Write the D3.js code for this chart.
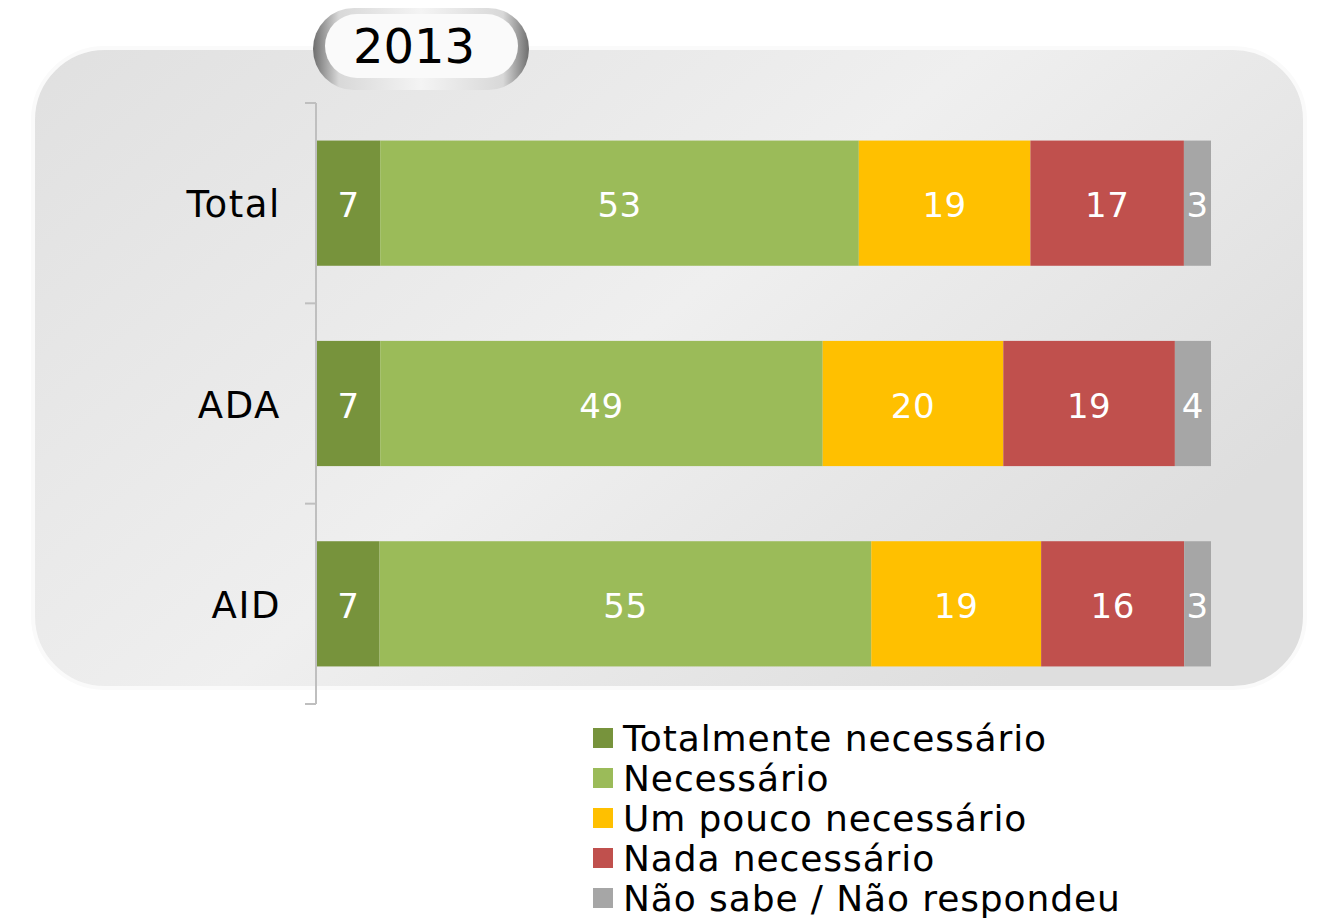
<!DOCTYPE html>
<html>
  <head>
    <meta charset="utf-8" />
    <title>2013</title>
    <script src="https://d3js.org/d3.v7.min.js"></script>
    <style>
      body { margin: 0; background: #fff; }
      text { font-family: "DejaVu Sans", Verdana, sans-serif; }
    </style>
  </head>
  <body>
    <svg width="1319" height="921" id="chart"></svg>

    <script>
        // data
        var categories = ["Total", "ADA", "AID"];
        var seriesNames = ["Totalmente necessário", "Necessário", "Um pouco necessário", "Nada necessário", "Não sabe / Não respondeu"];
        var totalmente = [7, 7, 7];
        var necessario = [53, 49, 55];
        var umPouco = [19, 20, 19];
        var nada = [17, 19, 16];
        var naoSabe = [3, 4, 3];
        var yearLabel = "2013";

        var colors = ["#77933c", "#9bbb59", "#ffc000", "#c0504d", "#a6a6a6"];

        // build rows for d3.stack
        var seriesValues = [totalmente, necessario, umPouco, nada, naoSabe];
        var rows = categories.map(function(c, i) {
            var r = { cat: c };
            seriesNames.forEach(function(s, j) { r[s] = seriesValues[j][i]; });
            return r;
        });

        var svg = d3.select("#chart");
        var defs = svg.append("defs");

        // background panel gradient
        var grad = defs.append("linearGradient").attr("id", "bg")
            .attr("x1", "0").attr("y1", "0").attr("x2", "1").attr("y2", "0.6");
        grad.append("stop").attr("offset", "0").attr("stop-color", "#e0e0e0");
        grad.append("stop").attr("offset", "0.55").attr("stop-color", "#efefef");
        grad.append("stop").attr("offset", "1").attr("stop-color", "#dedede");

        svg.append("rect")
            .attr("x", 33).attr("y", 48)
            .attr("width", 1272).attr("height", 640)
            .attr("rx", 72).attr("ry", 72)
            .attr("fill", "url(#bg)")
            .attr("stroke", "#fafafa").attr("stroke-width", 4);

        // scales
        var x = d3.scaleLinear().domain([0, 1]).range([317, 1211]);
        var y = d3.scaleBand().domain(categories).range([103, 704]).paddingInner(0.375).paddingOuter(0.1875);

        var stack = d3.stack().keys(seriesNames).offset(d3.stackOffsetExpand);
        var stacked = stack(rows);

        var groups = svg.append("g").selectAll("g")
            .data(stacked)
            .enter().append("g")
            .attr("fill", function(d, i) { return colors[i]; });

        groups.selectAll("rect")
            .data(function(d) { return d; })
            .enter().append("rect")
            .attr("x", function(d) { return x(d[0]); })
            .attr("y", function(d) { return y(d.data.cat); })
            .attr("width", function(d) { return x(d[1]) - x(d[0]); })
            .attr("height", y.bandwidth());

        // value labels
        groups.selectAll("text")
            .data(function(d) { return d.map(function(p) { p.key = d.key; return p; }); })
            .enter().append("text")
            .attr("x", function(d) { return (x(d[0]) + x(d[1])) / 2; })
            .attr("y", function(d) { return y(d.data.cat) + y.bandwidth() / 2; })
            .attr("dy", "0.42em")
            .attr("text-anchor", "middle")
            .attr("fill", "#fff")
            .style("font-size", "34px")
            .style("letter-spacing", "0.5px")
            .text(function(d) { return d.data[d.key]; });

        // y axis: line with ticks between categories
        var axisG = svg.append("g");
        var tickYs = [103].concat(categories.map(function(c) { return y(c) + y.bandwidth() + y.step() * y.paddingInner() / 2; }));
        axisG.append("line")
            .attr("x1", 316).attr("x2", 316).attr("y1", 103).attr("y2", 704)
            .attr("stroke", "#bfbfbf").attr("stroke-width", 2);
        axisG.selectAll(".tick").data(tickYs).enter().append("line")
            .attr("x1", 305).attr("x2", 316)
            .attr("y1", function(d) { return d; }).attr("y2", function(d) { return d; })
            .attr("stroke", "#bfbfbf").attr("stroke-width", 2);
        axisG.selectAll(".lbl").data(categories).enter().append("text")
            .attr("x", 281)
            .attr("y", function(d) { return y(d) + y.bandwidth() / 2; })
            .attr("dy", "0.38em")
            .attr("text-anchor", "end")
            .attr("fill", "#000")
            .style("font-size", "37px")
            .style("letter-spacing", "1.6px")
            .text(function(d) { return d; });

        // year pill
        var pg = defs.append("linearGradient").attr("id", "ring")
            .attr("x1", "0").attr("y1", "0").attr("x2", "1").attr("y2", "0");
        pg.append("stop").attr("offset", "0").attr("stop-color", "#6e6e6e");
        pg.append("stop").attr("offset", "0.12").attr("stop-color", "#d8d8d8");
        pg.append("stop").attr("offset", "0.5").attr("stop-color", "#f4f4f4");
        pg.append("stop").attr("offset", "0.88").attr("stop-color", "#d8d8d8");
        pg.append("stop").attr("offset", "1").attr("stop-color", "#6e6e6e");
        svg.append("rect")
            .attr("x", 313).attr("y", 8).attr("width", 216).attr("height", 82)
            .attr("rx", 41).attr("fill", "url(#ring)");
        svg.append("rect")
            .attr("x", 325).attr("y", 14).attr("width", 193).attr("height", 64)
            .attr("rx", 32).attr("fill", "#fafafa");
        svg.append("text")
            .attr("x", 414).attr("y", 46).attr("dy", "0.36em")
            .attr("text-anchor", "middle").attr("fill", "#000")
            .style("font-size", "48px")
            .text(yearLabel);

        // legend
        var legend = svg.append("g").selectAll("g")
            .data(seriesNames).enter().append("g")
            .attr("transform", function(d, i) { return "translate(593," + (738 + i * 40) + ")"; });
        legend.append("rect")
            .attr("x", 0).attr("y", -10).attr("width", 20).attr("height", 20)
            .attr("fill", function(d, i) { return colors[i]; });
        legend.append("text")
            .attr("x", 30).attr("y", 0).attr("dy", "0.36em")
            .attr("fill", "#000")
            .style("font-size", "36px")
            .style("letter-spacing", "0.9px")
            .text(function(d) { return d; });
    </script>
  </body>
</html>
